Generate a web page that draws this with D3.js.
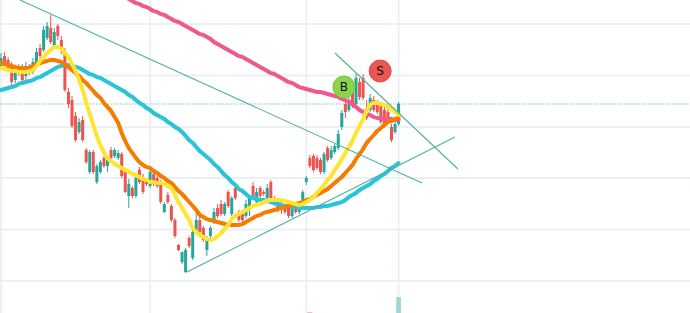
<!DOCTYPE html>
<html>
<head>
<meta charset="utf-8">
<script src="https://cdn.jsdelivr.net/npm/d3@7"></script>
<style>
  html, body { margin: 0; padding: 0; background: #fff; }
  #chart { width: 690px; height: 313px; overflow: hidden; }
</style>
</head>
<body>
<div id="chart"></div>
<script>
// daily candles (price units)
const opens = [9.34,9.44,9.40,9.34,9.20,9.26,9.33,9.24,9.34,9.28,
  9.34,9.52,9.50,9.62,9.72,9.54,9.74,9.60,9.48,9.08,
  9.00,8.84,8.68,8.80,8.50,8.28,8.48,8.18,8.28,8.42,
  8.34,8.50,8.44,8.42,8.46,8.28,8.04,8.12,8.04,8.30,
  8.22,8.20,8.14,8.26,8.22,8.16,7.88,8.05,7.94,7.80,
  7.55,7.38,7.28,7.62,7.42,7.68,7.80,7.72,7.50,7.64,
  7.78,7.92,7.96,7.86,8.08,7.86,8.12,7.88,7.86,7.84,
  7.92,8.14,7.98,8.12,8.08,8.02,8.18,8.02,8.00,7.96,
  7.94,7.96,7.84,7.92,7.88,7.96,8.18,8.42,8.44,8.42,
  8.40,8.28,8.52,8.42,8.48,8.52,8.73,8.96,8.90,9.12,
  8.96,9.18,9.22,8.92,8.90,9.00,8.96,8.94,8.90,8.88,
  8.73,8.68,8.76];
const closes = [9.42,9.36,9.30,9.18,9.30,9.32,9.20,9.34,9.28,9.38,
  9.48,9.44,9.70,9.74,9.58,9.68,9.64,9.50,9.10,8.96,
  8.74,8.60,8.78,8.60,8.38,8.48,8.28,8.34,8.38,8.34,
  8.40,8.42,8.50,8.47,8.24,8.08,8.16,8.04,8.22,8.18,
  8.08,8.16,8.28,8.16,8.14,7.98,7.96,7.98,7.80,7.64,
  7.50,7.48,7.50,7.54,7.68,7.80,7.68,7.60,7.62,7.72,
  7.88,7.84,7.86,7.96,7.94,8.02,8.02,7.80,7.80,7.96,
  8.02,8.04,8.08,8.04,8.06,8.12,8.02,7.96,7.90,7.90,
  7.88,7.84,7.94,7.88,7.96,8.08,8.22,8.34,8.30,8.32,
  8.28,8.46,8.40,8.50,8.54,8.66,8.87,8.88,9.00,8.94,
  9.22,9.03,9.02,8.82,9.02,8.90,8.88,8.78,8.74,8.80,
  8.60,8.76,8.96];
const highs = [9.47,9.48,9.43,9.38,9.34,9.36,9.36,9.38,9.36,9.42,
  9.52,9.56,9.74,9.78,9.85,9.72,9.76,9.64,9.52,9.12,
  9.04,8.88,8.82,8.84,8.52,8.50,8.50,8.36,8.40,8.44,
  8.42,8.53,8.52,8.50,8.48,8.30,8.21,8.14,8.24,8.33,
  8.26,8.22,8.32,8.30,8.24,8.20,7.98,8.08,7.96,7.82,
  7.56,7.48,7.52,7.64,7.72,7.88,7.88,7.74,7.64,7.74,
  7.92,7.96,8.00,7.98,8.10,8.04,8.16,7.90,7.90,8.00,
  8.04,8.18,8.12,8.14,8.10,8.16,8.20,8.04,8.02,7.98,
  7.96,7.98,7.96,7.94,7.98,8.10,8.24,8.45,8.46,8.45,
  8.42,8.48,8.54,8.54,8.56,8.70,8.90,9.01,9.04,9.16,
  9.26,9.22,9.26,9.00,9.06,9.04,9.00,8.98,8.94,8.92,
  8.76,8.78,8.98];
const lows = [9.32,9.34,9.28,9.14,9.17,9.24,9.16,9.20,9.25,9.26,
  9.32,9.38,9.48,9.60,9.56,9.52,9.60,9.46,9.08,8.92,
  8.72,8.58,8.66,8.58,8.36,8.26,8.26,8.16,8.26,8.32,
  8.28,8.38,8.42,8.40,8.22,8.07,7.92,8.02,8.02,8.16,
  8.06,8.14,8.12,8.14,8.12,7.96,7.87,7.96,7.78,7.62,
  7.49,7.36,7.27,7.52,7.40,7.66,7.66,7.58,7.44,7.62,
  7.76,7.82,7.84,7.84,7.92,7.84,8.00,7.78,7.78,7.82,
  7.84,8.00,7.96,8.02,8.04,8.00,8.00,7.94,7.88,7.86,
  7.86,7.82,7.82,7.86,7.86,7.94,8.15,8.32,8.28,8.30,
  8.26,8.26,8.38,8.40,8.46,8.50,8.70,8.82,8.88,8.92,
  8.94,9.00,9.00,8.80,8.88,8.88,8.86,8.76,8.72,8.78,
  8.58,8.66,8.74];

// moving averages as drawn (yellow, orange, cyan, pink)
const maFast = [9.32,9.31,9.30,9.29,9.29,9.28,9.28,9.28,9.29,9.30,
  9.34,9.39,9.43,9.47,9.50,9.53,9.53,9.51,9.47,9.43,
  9.36,9.29,9.20,9.10,8.98,8.86,8.75,8.64,8.55,8.48,
  8.42,8.39,8.36,8.34,8.32,8.30,8.28,8.26,8.25,8.23,
  8.21,8.20,8.18,8.18,8.17,8.17,8.16,8.14,8.12,8.05,
  7.98,7.92,7.86,7.80,7.72,7.68,7.65,7.63,7.61,7.60,
  7.61,7.64,7.67,7.71,7.75,7.81,7.84,7.86,7.88,7.90,
  7.92,7.94,7.95,7.96,7.98,7.99,8.00,8.00,8.00,8.00,
  7.99,7.98,7.97,7.96,7.95,7.96,7.98,8.00,8.03,8.07,
  8.11,8.15,8.20,8.24,8.30,8.35,8.41,8.47,8.53,8.59,
  8.67,8.74,8.81,8.89,8.95,8.97,8.97,8.96,8.95,8.93,
  8.91,8.88,8.85];
const maMid = [9.37,9.36,9.35,9.34,9.33,9.32,9.32,9.31,9.32,9.34,
  9.36,9.37,9.38,9.39,9.40,9.40,9.39,9.38,9.35,9.33,
  9.30,9.27,9.24,9.20,9.17,9.13,9.09,9.05,9.02,8.97,
  8.93,8.89,8.83,8.77,8.67,8.59,8.52,8.47,8.42,8.38,
  8.35,8.33,8.32,8.29,8.27,8.24,8.22,8.19,8.17,8.13,
  8.09,8.06,8.02,7.98,7.94,7.90,7.85,7.83,7.81,7.80,
  7.79,7.78,7.77,7.76,7.75,7.75,7.75,7.75,7.76,7.78,
  7.80,7.82,7.84,7.85,7.87,7.88,7.89,7.90,7.91,7.92,
  7.93,7.94,7.95,7.96,7.97,7.98,8.00,8.01,8.03,8.05,
  8.07,8.09,8.11,8.14,8.17,8.20,8.23,8.27,8.31,8.35,
  8.41,8.46,8.51,8.57,8.61,8.65,8.69,8.72,8.75,8.78,
  8.79,8.81,8.82];
const maSlow = [9.10,9.11,9.12,9.13,9.14,9.16,9.17,9.18,9.19,9.20,
  9.22,9.23,9.25,9.27,9.29,9.31,9.33,9.34,9.35,9.35,
  9.34,9.33,9.32,9.30,9.28,9.26,9.25,9.23,9.22,9.20,
  9.18,9.16,9.14,9.12,9.10,9.08,9.05,9.03,9.00,8.97,
  8.95,8.92,8.90,8.87,8.85,8.83,8.81,8.78,8.76,8.73,
  8.71,8.68,8.64,8.60,8.57,8.53,8.49,8.46,8.43,8.40,
  8.36,8.33,8.29,8.25,8.22,8.18,8.15,8.11,8.09,8.06,
  8.03,8.02,8.01,8.00,8.00,7.99,7.98,7.97,7.96,7.95,
  7.94,7.94,7.93,7.93,7.92,7.92,7.92,7.92,7.92,7.93,
  7.93,7.94,7.94,7.95,7.96,7.97,7.98,8.00,8.03,8.05,
  8.07,8.10,8.12,8.14,8.16,8.19,8.21,8.24,8.26,8.29,
  8.32,8.34,8.37];
const maLongStart = 33;
const maLong = [10.07,10.05,10.03,10.01,9.99,9.97,9.96,9.94,9.93,9.91,
  9.89,9.88,9.86,9.85,9.83,9.81,9.79,9.78,9.76,9.74,
  9.72,9.70,9.68,9.66,9.65,9.63,9.61,9.58,9.56,9.54,
  9.52,9.50,9.48,9.46,9.44,9.43,9.41,9.39,9.37,9.35,
  9.33,9.31,9.29,9.27,9.26,9.24,9.22,9.20,9.18,9.17,
  9.15,9.13,9.12,9.11,9.10,9.09,9.08,9.08,9.07,9.06,
  9.05,9.04,9.03,9.01,9.00,8.98,8.96,8.93,8.90,8.88,
  8.86,8.85,8.83,8.82,8.82,8.81,8.81,8.81,8.80,8.80];

// volume: only two bars are visible at the bottom
const volumeBars = [
  { i: 87, v: 100000, up: false },
  { i: 112, v: 1520000, up: true }
];

// drawn trend lines, endpoints as (candle index, price)
const trendLines = [
  { i0: 5.35, p0: 10.00, i1: 118.6, p1: 8.17 },
  { i0: 52.4, p0: 7.28, i1: 127.9, p1: 8.63 },
  { i0: 94.1, p0: 9.47, i1: 128.7, p1: 8.31 }
];

// buy / sell signals
const signals = [
  { i: 96.6, p: 9.13, label: 'B', fill: '#8ad64b', stroke: '#7cc63f' },
  { i: 106.8, p: 9.29, label: 'S', fill: '#eb5552', stroke: '#dc4a47' }
];

const gridPrices = [9.76, 9.245, 8.73, 8.22, 7.705, 7.19];
const gridCandles = [0, 42, 86, 112];

const width = 690, height = 313;

let x = d3.scaleLinear()
  .domain([0, opens.length - 1])
  .range([1, 398.6]);

let y = d3.scaleLinear()
  .domain([6.87, 10])
  .range([height, 0]);

let yVol = d3.scaleLinear()
  .domain([0, 6000000])
  .range([height, height - 63]);

const svg = d3.select('#chart')
  .append('svg')
  .attr('width', width)
  .attr('height', height)
  .attr('viewBox', [0, 0, width, height].join(' '));

// grid
svg.append('g')
  .selectAll('line')
  .data(gridPrices)
  .join('line')
  .attr('x1', 0)
  .attr('x2', width)
  .attr('y1', d => y(d))
  .attr('y2', d => y(d))
  .attr('stroke', '#ebf0f5')
  .attr('stroke-width', 1.8);

svg.append('g')
  .selectAll('line')
  .data(gridCandles)
  .join('line')
  .attr('x1', d => x(d))
  .attr('x2', d => x(d))
  .attr('y1', 0)
  .attr('y2', height)
  .attr('stroke', '#ebf0f5')
  .attr('stroke-width', 1.8);

// volume
svg.append('g')
  .selectAll('rect')
  .data(volumeBars)
  .join('rect')
  .attr('x', d => x(d.i) - 2.5)
  .attr('width', 5)
  .attr('y', d => yVol(d.v))
  .attr('height', d => height - yVol(d.v))
  .attr('fill', d => d.up ? 'rgba(38,166,154,0.4)' : 'rgba(239,83,80,0.4)');

// last price line
svg.append('line')
  .attr('x1', 0)
  .attr('x2', width)
  .attr('y1', y(closes[closes.length - 1]))
  .attr('y2', y(closes[closes.length - 1]))
  .attr('stroke', '#6cc7bc')
  .attr('stroke-width', 1.2)
  .attr('stroke-dasharray', '1.5,1.5');

// candles
const candles = d3.range(opens.length).map(i => ({
  i: i, o: opens[i], c: closes[i], h: highs[i], l: lows[i]
}));
const upColor = '#26a69a', downColor = '#ef5350';

let cg = svg.append('g');
cg.selectAll('line')
  .data(candles)
  .join('line')
  .attr('x1', d => x(d.i))
  .attr('x2', d => x(d.i))
  .attr('y1', d => y(d.h))
  .attr('y2', d => y(d.l))
  .attr('stroke', d => d.c >= d.o ? upColor : downColor)
  .attr('stroke-width', 1);

cg.selectAll('rect')
  .data(candles)
  .join('rect')
  .attr('x', d => x(d.i) - 1.5)
  .attr('width', 3)
  .attr('y', d => y(Math.max(d.o, d.c)))
  .attr('height', d => Math.max(1, Math.abs(y(d.o) - y(d.c))))
  .attr('fill', d => d.c >= d.o ? upColor : downColor);

// moving averages
let line = d3.line()
  .defined(d => d[1] != null)
  .x(d => x(d[0]))
  .y(d => y(d[1]))
  .curve(d3.curveMonotoneX);

const maSeries = [
  { values: maLong.map((v, k) => [k + maLongStart, v]), color: '#f0598b' },
  { values: maSlow.map((v, k) => [k, v]), color: '#29c4d8' },
  { values: maMid.map((v, k) => [k, v]), color: '#f57c00' },
  { values: maFast.map((v, k) => [k, v]), color: '#ffe52e' }
];

svg.append('g')
  .selectAll('path')
  .data(maSeries)
  .join('path')
  .attr('d', d => line(d.values))
  .attr('fill', 'none')
  .attr('stroke', d => d.color)
  .attr('stroke-width', 4)
  .attr('stroke-linejoin', 'round')
  .attr('stroke-linecap', 'round');

// trend lines
svg.append('g')
  .selectAll('line')
  .data(trendLines)
  .join('line')
  .attr('x1', d => x(d.i0))
  .attr('y1', d => y(d.p0))
  .attr('x2', d => x(d.i1))
  .attr('y2', d => y(d.p1))
  .attr('stroke', '#4db39b')
  .attr('stroke-width', 1.1);

// signals
let sg = svg.append('g')
  .selectAll('g')
  .data(signals)
  .join('g')
  .attr('transform', d => `translate(${x(d.i)},${y(d.p)})`);

sg.append('circle')
  .attr('r', 11)
  .attr('fill', d => d.fill)
  .attr('stroke', d => d.stroke)
  .attr('stroke-width', 1);

sg.append('text')
  .attr('text-anchor', 'middle')
  .attr('dy', '0.36em')
  .style('font-family', 'DejaVu Sans, sans-serif')
  .style('font-size', '12px')
  .attr('fill', '#111')
  .text(d => d.label);
</script>
</body>
</html>
